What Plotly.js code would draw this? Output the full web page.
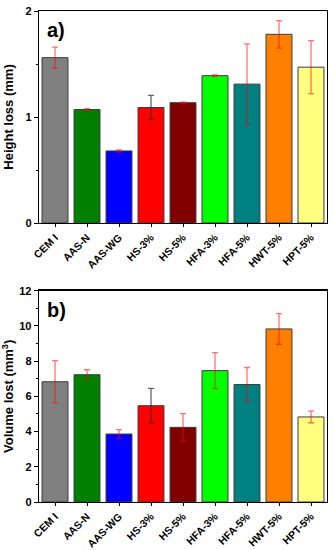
<!DOCTYPE html>
<html>
<head>
<meta charset="utf-8">
<script src="https://cdn.plot.ly/plotly-3.0.1.min.js"></script>
<style>html,body{margin:0;padding:0;background:#fff;}#chart{width:334px;height:550px;}</style>
</head>
<body>
<div id="chart"></div>
<script>
const categories = ["CEM I","AAS-N","AAS-WG","HS-3%","HS-5%","HFA-3%","HFA-5%","HWT-5%","HPT-5%"];
const barColors = ["#808080","#008000","#0000FF","#FF0000","#800000","#00FF00","#008080","#FF8000","#FFFF80"];
const heightLoss = [1.56, 1.07, 0.68, 1.09, 1.135, 1.39, 1.31, 1.78, 1.47];
const heightErr  = [0.10, 0.01, 0.01, 0.115, 0.005, 0.008, 0.38, 0.13, 0.25];
const volumeLost = [6.83, 7.23, 3.86, 5.47, 4.24, 7.46, 6.67, 9.83, 4.83];
const volumeErr  = [1.20, 0.28, 0.25, 0.98, 0.78, 1.02, 0.97, 0.87, 0.33];
const darkErrCategory = "HS-3%";

const FONT = "Arial, 'Liberation Sans', sans-serif";

function errTraces(vals, errs, xa, ya) {
  const idxR = categories.map((c,i)=>i).filter(i=>categories[i]!==darkErrCategory);
  const idxD = categories.map((c,i)=>i).filter(i=>categories[i]===darkErrCategory);
  const mk = (idx, col) => ({
    type: "scatter", mode: "markers",
    x: idx.map(i=>categories[i]), y: idx.map(i=>vals[i]),
    xaxis: xa, yaxis: ya, hoverinfo: "skip", showlegend: false,
    marker: {size: 1, color: "rgba(0,0,0,0)"},
    error_y: {type: "data", array: idx.map(i=>errs[i]), visible: true,
      color: col, thickness: 1.3, width: 3}
  });
  return [mk(idxR, "rgba(255,0,0,0.55)"), mk(idxD, "rgba(50,50,50,0.75)")];
}

const barCommon = {
  type: "bar", x: categories, showlegend: false, hoverinfo: "skip",
  marker: {color: barColors, line: {color: "#3a3a3a", width: 1}}
};

const data = [
  Object.assign({}, barCommon, {y: heightLoss, xaxis: "x2", yaxis: "y2"}),
  ...errTraces(heightLoss, heightErr, "x2", "y2"),
  Object.assign({}, barCommon, {y: volumeLost, xaxis: "x", yaxis: "y"}),
  ...errTraces(volumeLost, volumeErr, "x", "y")
];

const xCommon = {
  type: "category", range: [-0.5, 8.5], showline: true, mirror: true,
  linecolor: "#000", linewidth: 1.3, ticks: "outside", ticklen: 3, tickwidth: 1,
  tickcolor: "#000", tickangle: -45, showgrid: false, zeroline: false,
  tickfont: {family: FONT, size: 10.5, color: "#000", weight: "bold"}
};
const yCommon = {
  showline: true, mirror: true, linecolor: "#000", linewidth: 1.3,
  ticks: "outside", ticklen: 4, tickwidth: 1, tickcolor: "#000",
  showgrid: false, zeroline: false,
  tickfont: {family: FONT, size: 11, color: "#000", weight: "bold"},
  title: {font: {family: FONT, size: 13, color: "#000", weight: "bold"}, standoff: 8}
};

const layout = {
  width: 334, height: 550,
  margin: {l: 39, r: 7, t: 11, b: 48},
  paper_bgcolor: "#fff", plot_bgcolor: "#fff",
  bargap: 0.19,
  font: {family: FONT, color: "#000"},
  xaxis: Object.assign({}, xCommon, {anchor: "y"}),
  xaxis2: Object.assign({}, xCommon, {anchor: "y2"}),
  yaxis: Object.assign({}, yCommon, {
    domain: [0, 0.4303], range: [0, 12], tickvals: [0,2,4,6,8,10,12],
    minor: {tickvals: [1,3,5,7,9,11], ticks: "outside", ticklen: 2, tickcolor: "#000"},
    title: Object.assign({}, yCommon.title, {text: "Volume lost (mm<sup>3</sup>)"})
  }),
  yaxis2: Object.assign({}, yCommon, {
    domain: [0.5682, 1], range: [0, 2], tickvals: [0,1,2],
    minor: {tickvals: [0.5,1.5], ticks: "outside", ticklen: 2, tickcolor: "#000"},
    title: Object.assign({}, yCommon.title, {text: "Height loss (mm)"})
  }),
  annotations: [
    {text: "a)", xref: "x2 domain", yref: "y2 domain", x: 0.02, y: 0.97,
     xanchor: "left", yanchor: "top", showarrow: false,
     font: {family: FONT, size: 20, color: "#000", weight: "bold"}},
    {text: "b)", xref: "x domain", yref: "y domain", x: 0.02, y: 0.97,
     xanchor: "left", yanchor: "top", showarrow: false,
     font: {family: FONT, size: 20, color: "#000", weight: "bold"}}
  ]
};

Plotly.newPlot("chart", data, layout, {displayModeBar: false, staticPlot: true});
</script>
</body>
</html>
